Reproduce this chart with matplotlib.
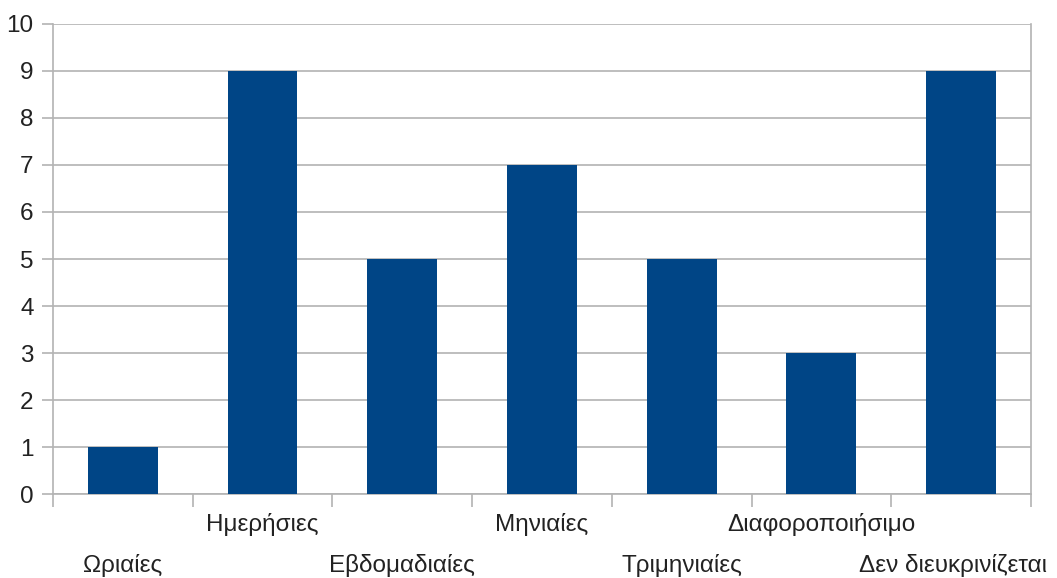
import numpy as np
import matplotlib.pyplot as plt

categories = ['Ωριαίες', 'Ημερήσιες', 'Εβδομαδιαίες', 'Μηνιαίες',
              'Τριμηνιαίες', 'Διαφοροποιήσιμο', 'Δεν διευκρινίζεται']
counts = [1, 9, 5, 7, 5, 3, 9]

plt.rcParams['font.family'] = ['Liberation Sans', 'DejaVu Sans']

bar_color = '#004586'
grid_color = '#b3b3b3'
text_color = '#222222'

fig = plt.figure(figsize=(10.57, 5.78), dpi=100)
ax = fig.add_axes([0.0501, 0.1453, 0.9253, 0.8132])

x = np.arange(len(categories))
ax.bar(x, counts, width=0.5, color=bar_color, zorder=3)

ax.set_xlim(-0.5, len(categories) - 0.5)
ax.set_ylim(0, 10)
ax.set_yticks(range(0, 11))
ax.yaxis.grid(True, color=grid_color, linewidth=1.2, zorder=0)

# tick marks sit between the categories, labels are drawn separately
ax.set_xticks(np.arange(-0.5, len(categories)), labels=[])
ax.tick_params(axis='x', length=9, width=1.2, color=grid_color, direction='out')
ax.tick_params(axis='y', length=8, width=1.2, color=grid_color, labelsize=17.5,
               labelcolor=text_color, pad=6)

for side in ['left', 'right', 'bottom']:
    ax.spines[side].set_color(grid_color)
    ax.spines[side].set_linewidth(1.2)
ax.spines['top'].set_visible(False)

# staggered category labels: even ones lower, odd ones higher;
# the last one is nudged left so it stays inside the figure
for i, name in enumerate(categories):
    dy = -71 if i % 2 == 0 else -30
    dx = -8 if i == len(categories) - 1 else 0
    ax.annotate(name, xy=(i, 0), xycoords=('data', 'axes fraction'),
                xytext=(dx, dy), textcoords='offset pixels',
                ha='center', va='center', fontsize=17.5, color=text_color)

fig.savefig('out.png', dpi=100)
